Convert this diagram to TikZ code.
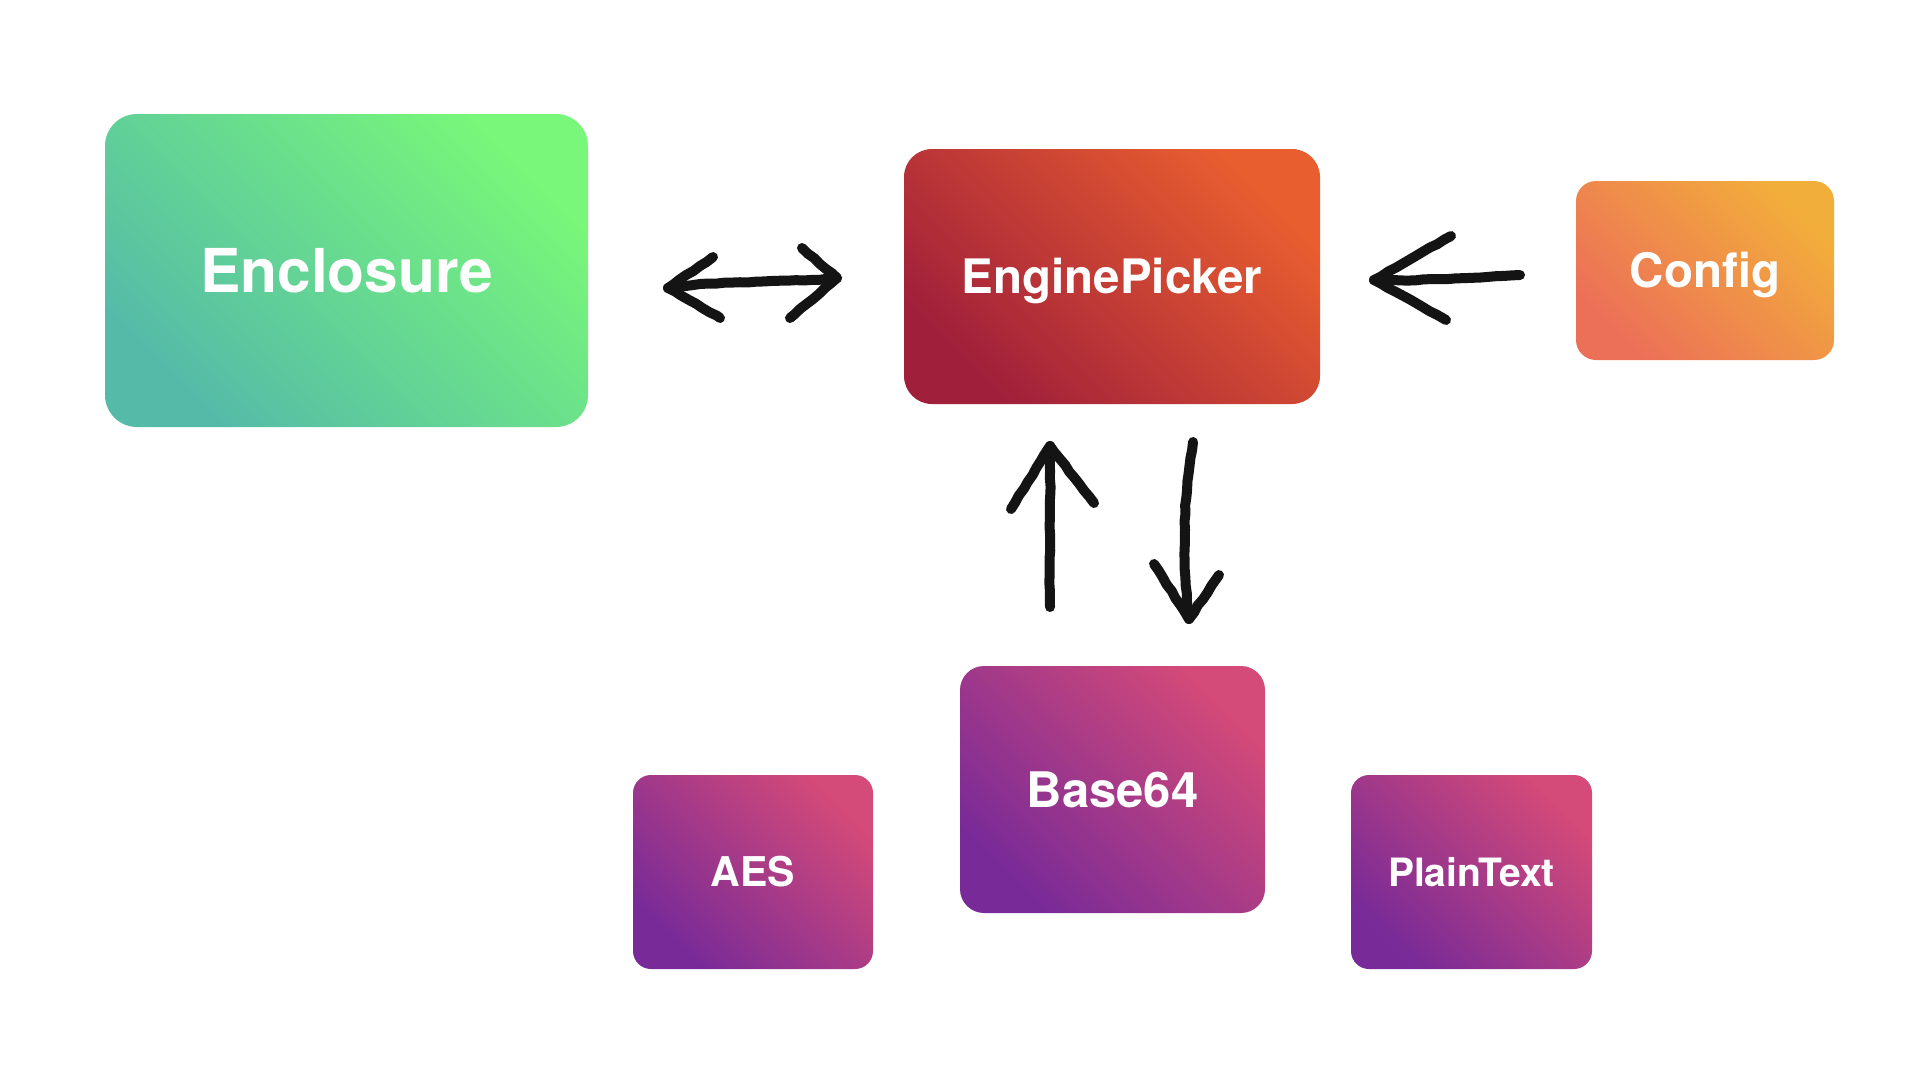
\documentclass[tikz,border=0pt]{standalone}
\usepackage{fontspec}
\setmainfont{TeX Gyre Heros}
\usetikzlibrary{decorations.pathmorphing}
\definecolor{greenTR}{HTML}{78F77A}
\definecolor{greenBL}{HTML}{55BBA8}
\definecolor{redTR}{HTML}{E95E2F}
\definecolor{redBL}{HTML}{A01F3B}
\definecolor{orangeTR}{HTML}{F2AE3B}
\definecolor{orangeBL}{HTML}{EC6F58}
\definecolor{purpleTR}{HTML}{D44A78}
\definecolor{purpleBL}{HTML}{772A98}
\begin{document}
\begin{tikzpicture}[x=1pt,y=-1pt,
  box/.style={inner sep=0pt, text=white, text depth=0pt},
  greenfill/.style={bottom color=greenBL, top color=greenTR, shading angle=-45},
  redfill/.style={bottom color=redBL, top color=redTR, shading angle=-45},
  orangefill/.style={bottom color=orangeBL, top color=orangeTR, shading angle=-45},
  purplefill/.style={bottom color=purpleBL, top color=purpleTR, shading angle=-45},
  sketch/.style={line width=10pt, line cap=round, line join=round, draw=black!92,
    decorate, decoration={random steps, segment length=8pt, amplitude=0.5pt}}]
\fill[white] (0,0) rectangle (1920,1080);
\useasboundingbox (0,0) rectangle (1920,1080);
\pgfmathsetseed{7}

\node[box, greenfill, rounded corners=32pt, minimum width=483pt, minimum height=313pt,
  text height=44pt, font=\fontsize{60.5}{70}\selectfont\bfseries] (enc) at (346.5,270.5) {Enclosure};
\node[box, redfill, rounded corners=28pt, minimum width=416pt, minimum height=255pt,
  text height=34pt, font=\fontsize{47.5}{54}\selectfont\bfseries] (ep) at (1112,276.5) {EnginePicker};
\node[box, orangefill, rounded corners=20pt, minimum width=258pt, minimum height=179pt,
  text height=34pt, font=\fontsize{47.5}{54}\selectfont\bfseries] (cfg) at (1705,270.5) {Config};
\node[box, purplefill, rounded corners=24pt, minimum width=305pt, minimum height=247pt,
  text height=35pt, font=\fontsize{49}{56}\selectfont\bfseries] (b64) at (1112.5,789.5) {Base64};
\node[box, purplefill, rounded corners=18pt, minimum width=240pt, minimum height=194pt,
  text height=29.5pt, font=\fontsize{41}{48}\selectfont\bfseries] (aes) at (753,872) {AES};
\node[box, purplefill, rounded corners=18pt, minimum width=241pt, minimum height=194pt,
  text height=28pt, font=\fontsize{39}{46}\selectfont\bfseries] (pt) at (1471.5,872) {PlainText};

% double arrow Enclosure <-> EnginePicker
\coordinate (lrA) at (668,288);
\coordinate (lrB) at (837,278);
\draw[sketch] (lrA) .. controls (725,280) and (785,283) .. (lrB);
\draw[sketch] (lrA) ++(45,-31) -- (lrA) -- ++(52,30);
\draw[sketch] (lrB) ++(-35,-30) -- (lrB) -- ++(-47,40);

% Config -> EnginePicker
\coordinate (cfgT) at (1520,275);
\coordinate (cfgH) at (1374,280);
\draw[sketch] (cfgT) .. controls (1475,278) and (1420,281) .. (cfgH);
\draw[sketch] (cfgH) ++(77,-44) -- (cfgH) -- ++(72,40);

% Base64 -> EnginePicker (up)
\coordinate (upT) at (1050,607);
\coordinate (upH) at (1050,446);
\draw[sketch] (upT) .. controls (1049,550) and (1051,500) .. (upH);
\draw[sketch] (upH) ++(-39,63) -- (upH) -- ++(44,57);

% EnginePicker -> Base64 (down)
\coordinate (dnT) at (1193,442);
\coordinate (dnH) at (1189,619);
\draw[sketch] (dnT) .. controls (1183,500) and (1182,560) .. (dnH);
\draw[sketch] (dnH) ++(-35,-55) -- (dnH) -- ++(30,-44);
\end{tikzpicture}
\end{document}
